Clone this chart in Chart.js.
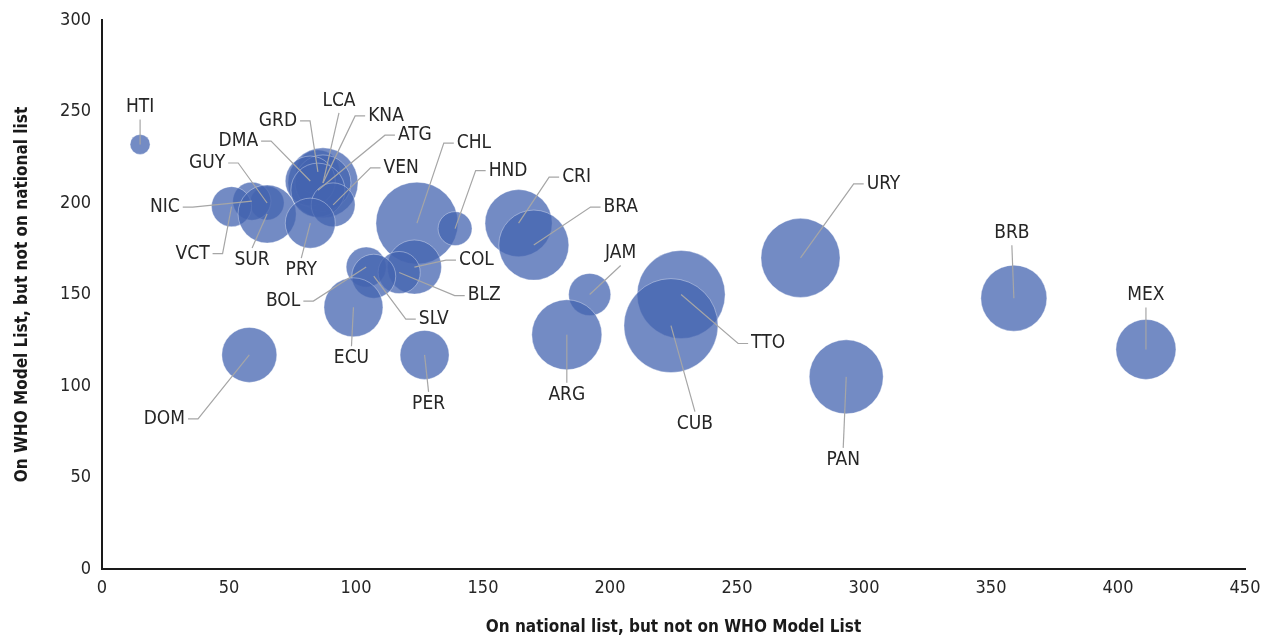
<!DOCTYPE html>
<html>
<head>
<meta charset="utf-8">
<script src="https://cdn.jsdelivr.net/npm/chart.js@4.4.1/dist/chart.umd.min.js"></script>
<style>
  html, body { margin: 0; padding: 0; background: #fff; }
  #wrap { width: 1271px; height: 639px; position: relative; }
</style>
</head>
<body>
<div id="wrap"><canvas id="chart"></canvas></div>
<script>
// countries (ISO codes)
const countries = ['HTI', 'GRD', 'LCA', 'KNA', 'DMA', 'ATG', 'CHL', 'GUY', 'VEN', 'HND', 'CRI',
    'URY', 'NIC', 'BRA', 'BRB', 'VCT', 'SUR', 'JAM', 'COL', 'PRY', 'MEX', 'BOL', 'BLZ',
    'SLV', 'TTO', 'ECU', 'PER', 'ARG', 'DOM', 'CUB', 'PAN'];
// on national list, but not on WHO Model List
const nationalOnly = [15, 85, 87, 87, 82, 85, 124, 65, 91, 139, 164,
    275, 59, 170, 359, 51, 65, 192, 123, 82, 411, 104, 117,
    107, 228, 99, 127, 183, 58, 224, 293];
// on WHO Model List, but not on national list
const whoOnly = [232, 217, 211, 211, 212, 207, 189, 200, 199, 186, 189,
    170, 201, 177, 148, 198, 194, 150, 165, 189, 120, 165, 162,
    160, 150, 143, 117, 128, 117, 133, 105];
// bubble size (third variable)
const bubbleSize = [16, 77, 196, 125, 100, 117, 269, 46, 77, 46, 180,
    250, 58, 196, 174, 64, 135, 71, 117, 100, 144, 64, 71,
    77, 310, 139, 96, 196, 121, 353, 219];

const xTicks = [0, 50, 100, 150, 200, 250, 300, 350, 400, 450];
const yTicks = [0, 50, 100, 150, 200, 250, 300];

// label placement: offset of label centre from bubble centre (px) and side of leader
const labelPlace = {
    HTI: [0, -37, 't'], GRD: [-40, -51, 'l'], LCA: [16, -82, 't'], KNA: [63, -67, 'r'],
    DMA: [-72, -40, 'l'], ATG: [97, -55, 'r'], CHL: [57, -80, 'r'], GUY: [-60, -40, 'l'],
    VEN: [68, -37, 'r'], HND: [53, -58, 'r'], CRI: [58, -46, 'r'], URY: [83, -74, 'r'],
    NIC: [-87, 6, 'l'], BRA: [87, -38, 'r'], BRB: [-2, -65, 't'], VCT: [-39, 47, 'l'],
    SUR: [-15, 46, 'b'], JAM: [31, -41, 't'], COL: [62, -7, 'r'], PRY: [-9, 47, 'b'],
    MEX: [0, -54, 't'], BOL: [-83, 34, 'l'], BLZ: [85, 23, 'r'], SLV: [60, 43, 'r'],
    TTO: [87, 49, 'r'], ECU: [-2, 51, 'b'], PER: [4, 49, 'b'], ARG: [0, 60, 'b'],
    DOM: [-85, 64, 'l'], CUB: [24, 98, 'b'], PAN: [-3, 83, 'b']
};

const FONT = '"DejaVu Sans Condensed", "Liberation Sans Narrow", sans-serif';

const points = countries.map((c, i) => ({
    x: nationalOnly[i],
    y: whoOnly[i],
    r: Math.sqrt(bubbleSize[i]) * 2.5,
    label: c
}));

const leaderLabels = {
    id: 'leaderLabels',
    afterDatasetsDraw(chart) {
        const ctx = chart.ctx;
        const meta = chart.getDatasetMeta(0);
        ctx.save();
        ctx.font = '19px ' + FONT;
        ctx.textAlign = 'center';
        ctx.textBaseline = 'middle';
        meta.data.forEach((el, i) => {
            const name = countries[i];
            const p = labelPlace[name];
            if (!p) return;
            const cx = el.x, cy = el.y;
            const lx = cx + p[0], ly = cy + p[1];
            const w = ctx.measureText(name).width;
            ctx.strokeStyle = '#a6a6a6';
            ctx.lineWidth = 1.2;
            ctx.beginPath();
            ctx.moveTo(cx, cy);
            if (p[2] === 'r') {
                const left = lx - w / 2;
                ctx.lineTo(left - 13, ly);
                ctx.lineTo(left - 3, ly);
            } else if (p[2] === 'l') {
                const right = lx + w / 2;
                ctx.lineTo(right + 13, ly);
                ctx.lineTo(right + 3, ly);
            } else if (p[2] === 't') {
                ctx.lineTo(lx, ly + 12);
            } else {
                ctx.lineTo(lx, ly - 12);
            }
            ctx.stroke();
            ctx.fillStyle = '#262626';
            ctx.fillText(name, lx, ly);
        });
        ctx.restore();
    }
};

const ctx = document.getElementById('chart').getContext('2d');
new Chart(ctx, {
    type: 'bubble',
    data: {
        datasets: [{
            data: points,
            backgroundColor: 'rgba(68, 100, 176, 0.75)',
            borderColor: 'rgba(255, 255, 255, 0.35)',
            borderWidth: 1
        }]
    },
    options: {
        responsive: true,
        maintainAspectRatio: false,
        animation: false,
        events: [],
        layout: { autoPadding: false, padding: { top: 20, right: 26, bottom: 0, left: 0 } },
        plugins: {
            legend: { display: false },
            tooltip: { enabled: false }
        },
        scales: {
            x: {
                type: 'linear',
                min: 0,
                max: 450,
                afterBuildTicks: (scale) => { scale.ticks = xTicks.map(v => ({ value: v })); },
                afterFit: (scale) => { scale.height = 70; },
                grid: { display: false },
                border: { display: true, color: '#1a1a1a', width: 2 },
                ticks: { color: '#262626', font: { family: FONT, size: 18 }, padding: 1, maxRotation: 0 },
                title: {
                    display: true,
                    text: 'On national list, but not on WHO Model List',
                    color: '#1a1a1a',
                    font: { family: FONT, size: 17, weight: 'bold' },
                    padding: { top: 0, bottom: 1 }
                }
            },
            y: {
                type: 'linear',
                min: 0,
                max: 300,
                afterBuildTicks: (scale) => { scale.ticks = yTicks.map(v => ({ value: v })); },
                afterFit: (scale) => { scale.width = 102; },
                grid: { display: false },
                border: { display: true, color: '#1a1a1a', width: 2 },
                ticks: { color: '#262626', font: { family: FONT, size: 18 }, padding: 3 },
                title: {
                    display: true,
                    text: 'On WHO Model List, but not on national list',
                    color: '#1a1a1a',
                    font: { family: FONT, size: 17, weight: 'bold' },
                    padding: { top: 12, bottom: 0 }
                }
            }
        }
    },
    plugins: [leaderLabels]
});
</script>
</body>
</html>
